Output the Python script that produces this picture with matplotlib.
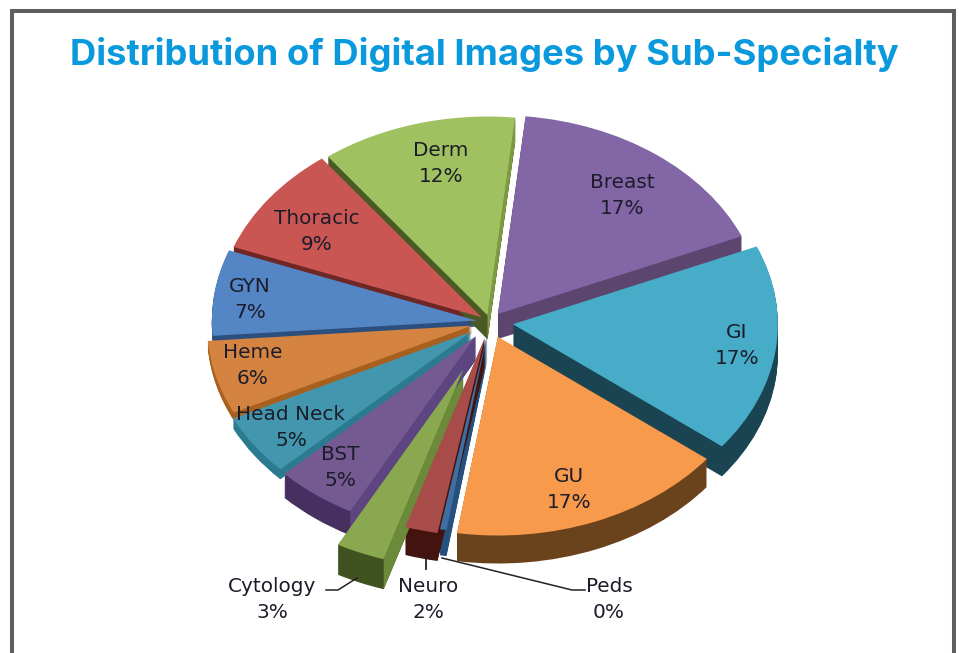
import matplotlib
matplotlib.use("Agg")
import matplotlib.pyplot as plt
from matplotlib.patches import Wedge, Polygon
import math

W, H = 959, 653

# ---- data ----
categories = ["Breast", "GI", "GU", "Peds", "Neuro", "Cytology", "BST",
              "Head Neck", "Heme", "GYN", "Thoracic", "Derm"]
shares = [17, 17, 17, 0.4, 2, 3, 5, 5, 6, 7, 9, 12]
title_text = "Distribution of Digital Images by Sub-Specialty"

# ---- style ----
top_colors = ["#8366a6", "#46acc8", "#f79a4c", "#3d6fa3", "#a84c49", "#8aa84f",
              "#755a92", "#4296ad", "#d58341", "#5486c5", "#c95653", "#9fc15f"]
side_colors = ["#5c4670", "#1b4453", "#6a421c", "#25517f", "#42130f", "#3f5220",
               "#46305f", "#2b7a90", "#a8601f", "#2c4f7d", "#6e2725", "#4a5a25"]
inner_colors = [None, None, None, None, None, "#6b8a3a",
                "#5c4580", None, None, None, None, "#7f9a43"]
explode_frac = [0.05, 0.087, 0.08, 0.06, 0.08, 0.26, 0.09, 0.085, 0.07, 0.05, 0.04, 0.035]
depths = [25, 30, 28, 26, 28, 30, 24, 10, 8, 6, 8, 24]
label_xy = [(622, 182), (737, 332), (569, 476), (609, 586), (428, 586), (272, 586),
            (340, 454), (291, 414), (253, 353), (250, 286), (317, 219), (441, 151)]
LINE_GAP = 26
SQUASH = 0.75
RADIUS = 265
CX, CY = 490, 322

fig = plt.figure(figsize=(W / 100, H / 100), dpi=100, facecolor="white")

# pie axes: circle in data units becomes a tilted ellipse on screen
ax = fig.add_axes([0, 0, 1, 1])
wedges, _ = ax.pie(shares, explode=[e * RADIUS for e in explode_frac],
                   startangle=84, counterclock=False,
                   colors=top_colors, radius=RADIUS,
                   center=(CX, (H - CY) / SQUASH),
                   wedgeprops=dict(linewidth=0))
ax.set_aspect("auto")
ax.set_xlim(0, W)
ax.set_ylim(0, H / SQUASH)
ax.axis("off")

for w, side, inner, d in zip(wedges, side_colors, inner_colors, depths):
    w.set_zorder(5)
    cx0, cy0 = w.center
    for k in range(1, d + 1):
        ax.add_patch(Wedge((cx0, cy0 - k / SQUASH), w.r, w.theta1, w.theta2,
                           facecolor=side, edgecolor="none", linewidth=0, zorder=2))
    if inner:
        # the cut face on the slice's right-hand edge is lit, not in shadow
        t = max(math.radians(w.theta1), math.radians(w.theta2), key=math.cos)
        ex, ey = cx0 + w.r * math.cos(t), cy0 + w.r * math.sin(t)
        dy = d / SQUASH
        ax.add_patch(Polygon([(cx0, cy0), (ex, ey), (ex, ey - dy), (cx0, cy0 - dy)],
                             facecolor=inner, edgecolor="none", linewidth=0, zorder=3))

# overlay in pixel coordinates
ov = fig.add_axes([0, 0, 1, 1], facecolor="none")
ov.set_xlim(0, W)
ov.set_ylim(H, 0)
ov.axis("off")

frame = "#5f5f5f"
ov.plot([12, 12, 954, 954], [H, 11, 11, H], color=frame, lw=2.9,
        solid_joinstyle="miter", solid_capstyle="butt")

ov.text(484, 55, title_text, ha="center", va="center", color="#0a99dc",
        fontsize=26.2, fontweight="bold", family="Inter")

for name, v, (x, y) in zip(categories, shares, label_xy):
    ov.text(x, y, name, ha="center", va="center", fontsize=14.4, color="#1c1c2a")
    ov.text(x, y + LINE_GAP, f"{v:.0f}%", ha="center", va="center", fontsize=14.4, color="#1c1c2a")

lead = "#222222"
ov.plot([326, 338, 357], [590, 590, 578], color=lead, lw=1.1)
ov.plot([426, 426], [556, 569], color=lead, lw=1.3)
ov.plot([442, 572, 585], [558, 590, 590], color=lead, lw=1.1)

fig.savefig("out.png", dpi=100, facecolor="white")
